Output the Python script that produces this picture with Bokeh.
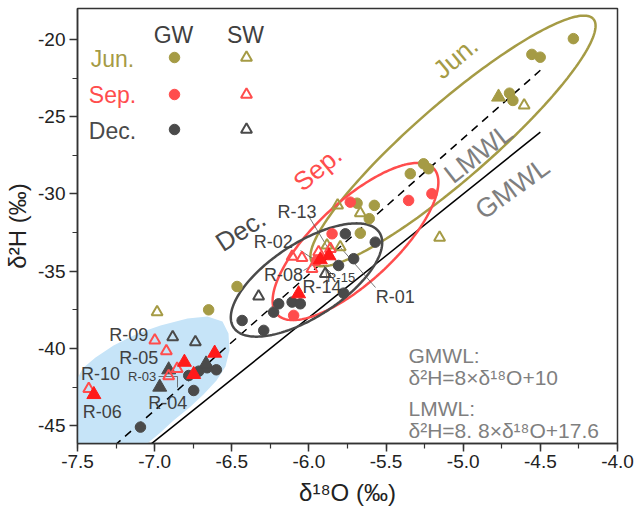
import numpy as np
from bokeh.plotting import figure
from bokeh.models import Range1d, FixedTicker, PrintfTickFormatter
from bokeh.core.properties import value
from bokeh.embed import file_html
from bokeh.resources import INLINE

FONT = "Liberation Sans"
OLIVE = "#a59b45"
RED = "#ff4d4d"
RED2 = "#ff1a1a"
DARK = "#4a4a4a"
GRAY = "#7f7f7f"
BLUE = "#c6e4f8"

# ---------------- data ----------------
gw_jun_x = [-4.286, -4.555, -4.501, -4.700, -4.678, -5.257, -5.225, -5.343, -5.688, -5.576, -5.609, -5.667, -6.466, -6.650]
gw_jun_y = [-19.95, -20.97, -21.15, -23.48, -23.95, -28.05, -28.37, -28.69, -30.60, -30.74, -31.60, -32.54, -35.99, -37.50]
sw_jun_x = [-4.605, -5.153, -5.814, -5.667, -5.883, -5.797, -6.984]
sw_jun_y = [-24.27, -32.83, -30.74, -31.24, -33.33, -33.44, -37.65]
sw_jun_f_x = [-4.771]
sw_jun_f_y = [-23.73]

gw_sep_x = [-5.203, -5.354, -5.732, -5.850, -5.948, -6.099]
gw_sep_y = [-29.99, -30.42, -30.53, -32.58, -34.30, -37.86]
sw_sep_x = [-6.109, -6.045, -5.937, -5.861, -5.980, -6.999, -6.924, -6.854, -6.909, -7.427]
sw_sep_y = [-34.05, -34.13, -33.77, -33.55, -34.84, -39.48, -40.17, -41.31, -41.79, -42.61]
sw_sep_f_x = [-5.926, -5.870, -6.067, -6.807, -6.611, -6.747, -7.394]
sw_sep_f_y = [-34.26, -34.00, -36.46, -40.89, -40.30, -41.68, -42.98]

gw_dec_x = [-5.764, -5.570, -5.710, -5.808, -5.775, -6.196, -6.109, -6.056, -6.229, -6.293, -6.433, -6.779, -6.714, -6.660, -6.600, -6.747, -7.092]
gw_dec_y = [-32.58, -33.12, -34.19, -34.63, -36.42, -37.11, -37.00, -37.11, -37.65, -38.83, -38.19, -41.75, -41.47, -41.25, -41.38, -42.72, -45.09]
sw_dec_x = [-5.894, -6.326, -6.883, -6.736]
sw_dec_y = [-35.17, -36.63, -39.27, -39.59]
sw_dec_f_x = [-6.909, -6.967, -6.667]
sw_dec_f_y = [-41.38, -42.50, -41.00]

site_names = ["R-09", "R-05", "R-10", "R-06", "R-04", "R-13", "R-02", "R-08", "R-14", "R-01"]
site_x = [-7.168, -7.103, -7.351, -7.340, -6.915, -6.077, -6.231, -6.165, -5.915, -5.440]
site_y = [-39.16, -40.60, -41.68, -44.12, -43.54, -31.18, -33.12, -35.22, -36.03, -36.68]
small_names = ["R-03", "R-15"]
small_x = [-7.081, -5.792]
small_y = [-41.81, -35.43]

x_ticks = [-7.5, -7.0, -6.5, -6.0, -5.5, -5.0, -4.5, -4.0]
y_ticks = [-45, -40, -35, -30, -25, -20]

# --------------- layout ---------------
W, H = 638, 515
BL, BR, BT, BB = 77, 21, 8, 72
X0, X1 = -7.5, -4.0
Y0, Y1 = -46.15, -18.0
XPX = (W - BL - BR) / (X1 - X0)
YPX = (H - BT - BB) / (Y1 - Y0)


def px2x(px):
    return X0 + (np.asarray(px, dtype=float) - BL) / XPX


def px2y(py):
    return Y1 - (np.asarray(py, dtype=float) - BT) / YPX


p = figure(width=W, height=H, output_backend="svg", toolbar_location=None,
           x_range=Range1d(X0, X1), y_range=Range1d(Y0, Y1),
           min_border_left=BL, min_border_right=BR, min_border_top=BT, min_border_bottom=BB)
p.grid.visible = False
p.outline_line_color = "#333333"
p.outline_line_width = 1.5
p.background_fill_color = "white"
p.border_fill_color = "white"

p.xaxis.ticker = FixedTicker(ticks=x_ticks, minor_ticks=list(np.arange(-7.5, -3.99, 0.25)))
p.yaxis.ticker = FixedTicker(ticks=y_ticks, minor_ticks=list(np.arange(-45, -19.9, 2.5)))
p.xaxis.formatter = PrintfTickFormatter(format="%.1f")
p.yaxis.formatter = PrintfTickFormatter(format="%d")
for ax in (p.xaxis[0], p.yaxis[0]):
    ax.axis_line_color = "#333333"
    ax.axis_line_width = 1.5
    ax.major_tick_line_color = "#333333"
    ax.minor_tick_line_color = "#333333"
    ax.major_tick_line_width = 1.5
    ax.minor_tick_line_width = 1.2
    ax.major_tick_out = 8
    ax.major_tick_in = 0
    ax.minor_tick_out = 5
    ax.minor_tick_in = 0
    ax.major_label_text_font = FONT
    ax.major_label_text_font_size = "19px"
    ax.major_label_text_color = "#222222"
    ax.axis_label_text_font = FONT
    ax.axis_label_text_font_size = "24px"
    ax.axis_label_text_font_style = "normal"
    ax.axis_label_text_color = "#222222"
p.xaxis.axis_label = "δ¹⁸O (‰)"
p.yaxis.axis_label = "δ²H (‰)"
p.xaxis.major_label_standoff = 3
p.xaxis.axis_label_standoff = 8
p.yaxis.major_label_standoff = 4
p.yaxis.axis_label_standoff = 4

# blue shaded zone (pixel outline -> data)
blob_px = [(74, 447), (74, 400), (76, 380), (82, 368), (95, 357), (113, 345), (137, 333), (160, 325),
           (187, 318), (207, 316), (222, 321), (228, 333), (229, 350), (225, 366), (216, 380),
           (203, 394), (189, 407), (173, 420), (160, 432), (148, 442), (138, 447)]
p.patch(px2x([q[0] for q in blob_px]), px2y([q[1] for q in blob_px]), fill_color=BLUE, line_color=None)

# meteoric water lines
gx = np.array([-7.02, -4.5])
p.line(gx, 8 * gx + 10, line_color="black", line_width=1.5)
lx = np.array([-7.26, -4.5])
p.line(lx, 8.8 * lx + 17.6, line_color="black", line_width=1.5, line_dash="8 6")

# ellipses (center px, semi-axes px, screen angle)
def ellipse(cx, cy, a, b, deg):
    t = np.linspace(0, 2 * np.pi, 240)
    th = np.radians(deg)
    ex = a * np.cos(th) * np.cos(t) - b * np.sin(th) * np.sin(t)
    ey = a * np.sin(th) * np.cos(t) + b * np.cos(th) * np.sin(t)
    return px2x(cx + ex), px2y(cy - ey)

for (cx, cy, a, b, deg, col) in [(452.5, 140.5, 186, 38, 41, OLIVE),
                                 (355, 241, 107, 40, 43, RED),
                                 (306, 279.5, 87, 37, 33, DARK)]:
    ex, ey = ellipse(cx, cy, a, b, deg)
    p.line(ex, ey, line_color=col, line_width=2.5)

# leader lines
segs_px = [((309, 217), (335, 260)), ((375, 287), (340, 247)), ((300, 250), (315, 260)),
           ((303, 270), (315, 263)), ((327, 283), (325, 267)), ((333, 275), (323, 265)),
           ((158, 376), (177, 376)), ((177, 376), (177, 387))]
p.multi_line([list(px2x([s[0][0], s[1][0]])) for s in segs_px],
             [list(px2y([s[0][1], s[1][1]])) for s in segs_px], line_color="#555555", line_width=0.8)

# markers
def circles(x, y, col):
    p.scatter(x, y, marker="circle", size=10.5, fill_color=col, line_color=col)

def open_tri(x, y, col):
    p.scatter(x, y, marker="triangle", size=11, fill_color=None, line_color=col, line_width=2)

def fill_tri(x, y, col):
    p.scatter(x, y, marker="triangle", size=14, fill_color=col, line_color=col)

circles(gw_jun_x, gw_jun_y, OLIVE)
open_tri(sw_jun_x, sw_jun_y, OLIVE)
fill_tri(sw_jun_f_x, sw_jun_f_y, OLIVE)
circles(gw_dec_x, gw_dec_y, DARK)
open_tri(sw_dec_x, sw_dec_y, DARK)
fill_tri(sw_dec_f_x, sw_dec_f_y, DARK)
circles(gw_sep_x, gw_sep_y, RED)
open_tri(sw_sep_x, sw_sep_y, RED)
fill_tri(sw_sep_f_x, sw_sep_f_y, RED2)

# site labels
p.text(site_x, site_y, text=site_names, text_font=value(FONT), text_font_size="18px",
       text_color="#404040", text_align="center", text_baseline="middle")
p.text(small_x, small_y, text=small_names, text_font=value(FONT), text_font_size="13px",
       text_color="#404040", text_align="center", text_baseline="middle")

# group labels
def label(px, py, txt, col, size, deg, align="center", baseline="middle"):
    p.text([float(px2x(px))], [float(px2y(py))], text=[txt], text_font=value(FONT), text_font_size=size,
           text_color=col, text_align=align, text_baseline=baseline, angle=np.radians(deg))

label(455, 57, "Jun.", OLIVE, "26px", 40)
label(317, 168, "Sep.", RED, "26px", 40)
label(240, 230, "Dec.", DARK, "26px", 33)
label(478, 153, "LMWL", GRAY, "27px", 38)
label(512, 188, "GMWL", GRAY, "27px", 36)

# equations
label(408, 355, "GMWL:", GRAY, "21px", 0, "left", "alphabetic")
label(408, 377, "δ²H=8×δ¹⁸O+10", GRAY, "21px", 0, "left", "alphabetic")
label(408, 408, "LMWL:", GRAY, "21px", 0, "left", "alphabetic")
label(408, 430, "δ²H=8. 8×δ¹⁸O+17.6", GRAY, "21px", 0, "left", "alphabetic")

# legend
label(173, 34, "GW", "#404040", "23px", 0)
label(245, 34, "SW", "#404040", "23px", 0)
label(112, 58, "Jun.", OLIVE, "23px", 0)
label(112, 94, "Sep.", RED, "23px", 0)
label(112, 130, "Dec.", DARK, "23px", 0)
for py, col in [(57, OLIVE), (94, RED), (129, DARK)]:
    p.scatter([float(px2x(174))], [float(px2y(py))], marker="circle", size=10.5, fill_color=col, line_color=col)
    p.scatter([float(px2x(246))], [float(px2y(py))], marker="triangle", size=11, fill_color=None,
              line_color=col, line_width=2)

open("out.html", "w").write(file_html(p, INLINE))
